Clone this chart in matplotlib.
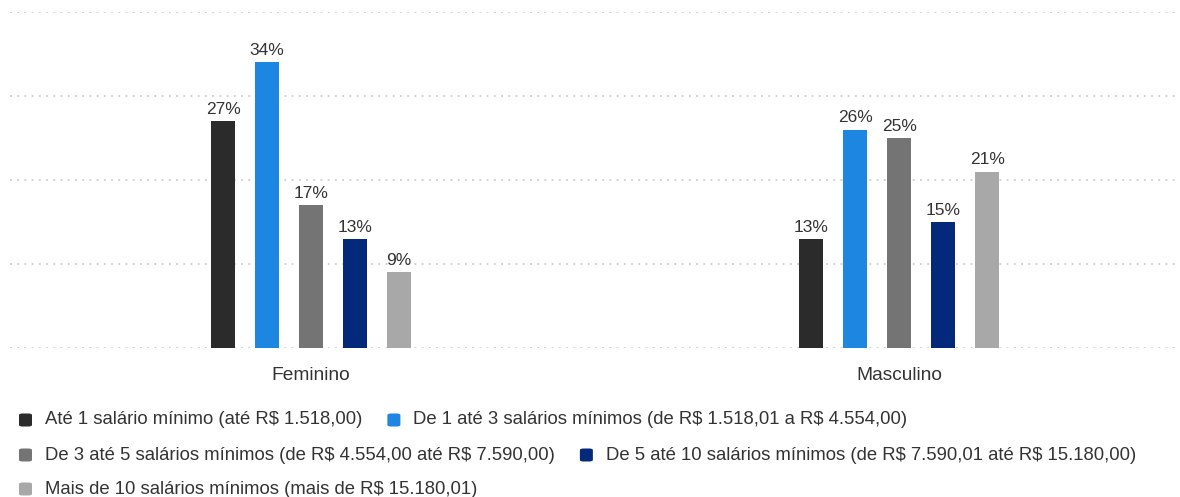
"""
Distribuição por faixa salarial e gênero: barras agrupadas com legenda em fluxo abaixo.
"""

import matplotlib.pyplot as plt
import numpy as np
from matplotlib.patches import FancyBboxPatch

plt.rcParams["font.family"] = ["Liberation Sans", "DejaVu Sans"]
plt.rcParams["text.parse_math"] = False  # "R$" must stay literal

groups = ["Feminino", "Masculino"]
series_labels = [
    "Até 1 salário mínimo (até R$ 1.518,00)",
    "De 1 até 3 salários mínimos (de R$ 1.518,01 a R$ 4.554,00)",
    "De 3 até 5 salários mínimos (de R$ 4.554,00 até R$ 7.590,00)",
    "De 5 até 10 salários mínimos (de R$ 7.590,01 até R$ 15.180,00)",
    "Mais de 10 salários mínimos (mais de R$ 15.180,01)",
]
feminino = [27, 34, 17, 13, 9]
masculino = [13, 26, 25, 15, 21]
colors = ["#2b2b2b", "#1d86e0", "#747474", "#04297a", "#a8a8a9"]
legend_rows = [[0, 1], [2, 3], [4]]

values = np.array([feminino, masculino]).T  # series x groups

W, H = 1180, 497
fig = plt.figure(figsize=(W / 100, H / 100), dpi=100)
ax = fig.add_axes([10 / W, (H - 348) / H, 1165 / W, 336 / H])

x = np.arange(len(groups))
step = 0.0748
width = 0.0408
n = len(series_labels)
for i, (label, vals, c) in enumerate(zip(series_labels, values, colors)):
    pos = x + (i - (n - 1) / 2) * step
    bars = ax.bar(pos, vals, width=width, color=c, label=label, zorder=3)
    for b, v in zip(bars, vals):
        ax.annotate(f"{v}%", (b.get_x() + b.get_width() / 2, b.get_height()),
                    xytext=(0, 3), textcoords="offset points",
                    ha="center", va="bottom", fontsize=12.5, color="#333333")

ax.set_xlim(-0.512, 1.469)
ax.set_ylim(0, 40)
ax.set_yticks([0, 10, 20, 30, 40])
ax.yaxis.grid(True, color="#cdcdcd", linestyle=(0, (1, 3)), linewidth=1.3, zorder=0)
ax.tick_params(axis="y", left=False, labelleft=False)
ax.set_xticks(x)
ax.set_xticklabels(groups, fontsize=13.8, color="#333333")
ax.tick_params(axis="x", length=0, pad=14)
for s in ax.spines.values():
    s.set_visible(False)

# legend laid out as flowing rows, like the original
fig.canvas.draw()
renderer = fig.canvas.get_renderer()
row_y = [420, 455, 489]
for row, yy in zip(legend_rows, row_y):
    xx = 19
    for idx in row:
        fy = (H - yy) / H
        fig.patches.append(FancyBboxPatch(
            (xx / W, fy - 6.5 / H), 13 / W, 13 / H,
            boxstyle="round,pad=0,rounding_size=0.003",
            transform=fig.transFigure, facecolor=colors[idx], edgecolor="none"))
        t = fig.text((xx + 26) / W, fy, series_labels[idx], fontsize=13.3,
                     color="#333333", va="center", ha="left")
        bb = t.get_window_extent(renderer)
        xx = bb.x1 + 25

fig.savefig("out.png", dpi=100)
